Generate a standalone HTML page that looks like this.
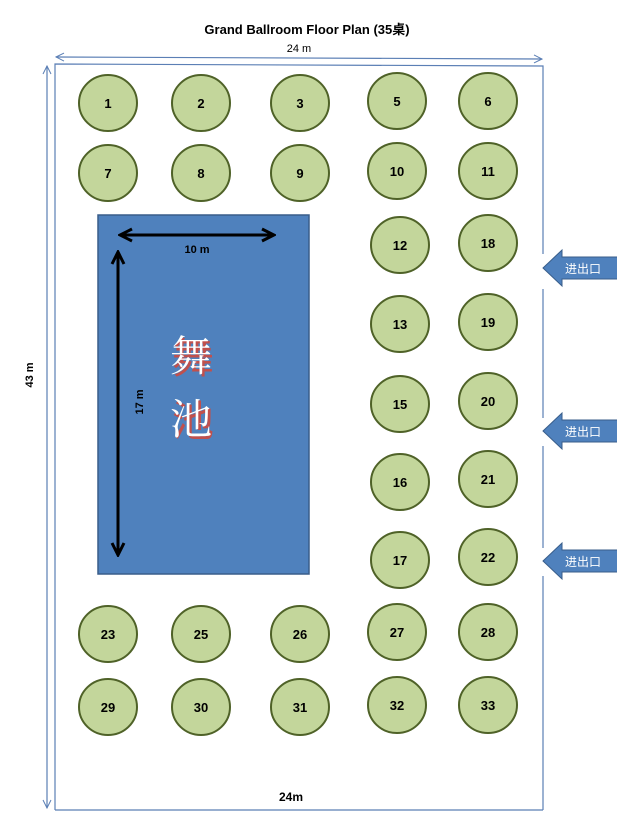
<!DOCTYPE html>
<html><head><meta charset="utf-8"><style>
body{margin:0;background:#fff;width:617px;height:823px;overflow:hidden}
svg text{font-family:"Liberation Sans","Noto Sans CJK SC",sans-serif}
</style></head><body>
<svg width="617" height="823" xmlns="http://www.w3.org/2000/svg">
<defs>
<marker id="oa" markerWidth="10" markerHeight="10" refX="9" refY="5" orient="auto-start-reverse" markerUnits="userSpaceOnUse"><path d="M1,1 L9,5 L1,9" fill="none" stroke="#5b7fb5" stroke-width="1"/></marker>
<marker id="ba" markerWidth="16" markerHeight="16" refX="14" refY="8" orient="auto-start-reverse" markerUnits="userSpaceOnUse"><path d="M2,2 L14,8 L2,14" fill="none" stroke="#000" stroke-width="3"/></marker>
</defs>
<text x="307" y="34" font-size="13" font-weight="bold" text-anchor="middle">Grand Ballroom Floor Plan  (35桌)</text>
<text x="299" y="52" font-size="11" text-anchor="middle">24 m</text>
<line x1="56" y1="57" x2="542" y2="59" stroke="#5b7fb5" stroke-width="1.2" marker-start="url(#oa)" marker-end="url(#oa)"/>
<line x1="47" y1="66" x2="47" y2="808" stroke="#5b7fb5" stroke-width="1.2" marker-start="url(#oa)" marker-end="url(#oa)"/>
<text transform="translate(33,375) rotate(-90)" font-size="11" font-weight="bold" text-anchor="middle">43 m</text>
<path d="M55,810 L55,64 L543,66 L543,254 M543,289 L543,418 M543,446 L543,548 M543,576 L543,810 Z M55,810 L543,810" fill="none" stroke="#5b7fb5" stroke-width="1.2"/>
<text x="291" y="801" font-size="12" font-weight="bold" text-anchor="middle">24m</text>
<rect x="98" y="215" width="211" height="359" fill="#4f81bd" stroke="#385d8a" stroke-width="1.5"/>
<line x1="120" y1="235" x2="274" y2="235" stroke="#000" stroke-width="3" marker-start="url(#ba)" marker-end="url(#ba)"/>
<text x="197" y="253" font-size="11" font-weight="bold" text-anchor="middle">10 m</text>
<line x1="118" y1="252" x2="118" y2="555" stroke="#000" stroke-width="3" marker-start="url(#ba)" marker-end="url(#ba)"/>
<text transform="translate(143,402) rotate(-90)" font-size="11" font-weight="bold" text-anchor="middle">17 m</text>
<g font-family="'Noto Serif CJK SC',serif" font-size="42" text-anchor="middle">
<text x="193" y="373" fill="#c0504d">舞</text><text x="193" y="436" fill="#c0504d">池</text>
<text x="191" y="371" fill="#fff" style="font-family:'Noto Serif CJK SC',serif">舞</text><text x="191" y="434" fill="#fff" style="font-family:'Noto Serif CJK SC',serif">池</text>
</g>
<g fill="#c3d69b" stroke="#4f6228" stroke-width="2">
<ellipse cx="108" cy="103" rx="29" ry="28"/><ellipse cx="201" cy="103" rx="29" ry="28"/><ellipse cx="300" cy="103" rx="29" ry="28"/><ellipse cx="397" cy="101" rx="29" ry="28"/><ellipse cx="488" cy="101" rx="29" ry="28"/>
<ellipse cx="108" cy="173" rx="29" ry="28"/><ellipse cx="201" cy="173" rx="29" ry="28"/><ellipse cx="300" cy="173" rx="29" ry="28"/><ellipse cx="397" cy="171" rx="29" ry="28"/><ellipse cx="488" cy="171" rx="29" ry="28"/>
<ellipse cx="400" cy="245" rx="29" ry="28"/><ellipse cx="488" cy="243" rx="29" ry="28"/>
<ellipse cx="400" cy="324" rx="29" ry="28"/><ellipse cx="488" cy="322" rx="29" ry="28"/>
<ellipse cx="400" cy="404" rx="29" ry="28"/><ellipse cx="488" cy="401" rx="29" ry="28"/>
<ellipse cx="400" cy="482" rx="29" ry="28"/><ellipse cx="488" cy="479" rx="29" ry="28"/>
<ellipse cx="400" cy="560" rx="29" ry="28"/><ellipse cx="488" cy="557" rx="29" ry="28"/>
<ellipse cx="108" cy="634" rx="29" ry="28"/><ellipse cx="201" cy="634" rx="29" ry="28"/><ellipse cx="300" cy="634" rx="29" ry="28"/><ellipse cx="397" cy="632" rx="29" ry="28"/><ellipse cx="488" cy="632" rx="29" ry="28"/>
<ellipse cx="108" cy="707" rx="29" ry="28"/><ellipse cx="201" cy="707" rx="29" ry="28"/><ellipse cx="300" cy="707" rx="29" ry="28"/><ellipse cx="397" cy="705" rx="29" ry="28"/><ellipse cx="488" cy="705" rx="29" ry="28"/>
</g>
<g font-size="13" font-weight="bold" text-anchor="middle">
<text x="108" y="108">1</text><text x="201" y="108">2</text><text x="300" y="108">3</text><text x="397" y="106">5</text><text x="488" y="106">6</text>
<text x="108" y="178">7</text><text x="201" y="178">8</text><text x="300" y="178">9</text><text x="397" y="176">10</text><text x="488" y="176">11</text>
<text x="400" y="250">12</text><text x="488" y="248">18</text>
<text x="400" y="329">13</text><text x="488" y="327">19</text>
<text x="400" y="409">15</text><text x="488" y="406">20</text>
<text x="400" y="487">16</text><text x="488" y="484">21</text>
<text x="400" y="565">17</text><text x="488" y="562">22</text>
<text x="108" y="639">23</text><text x="201" y="639">25</text><text x="300" y="639">26</text><text x="397" y="637">27</text><text x="488" y="637">28</text>
<text x="108" y="712">29</text><text x="201" y="712">30</text><text x="300" y="712">31</text><text x="397" y="710">32</text><text x="488" y="710">33</text>
</g>
<g fill="#4f81bd" stroke="#385d8a" stroke-width="1">
<path d="M543,268 L562,250 L562,257 L618,257 L618,279 L562,279 L562,286 Z"/>
<path d="M543,431 L562,413 L562,420 L618,420 L618,442 L562,442 L562,449 Z"/>
<path d="M543,561 L562,543 L562,550 L618,550 L618,572 L562,572 L562,579 Z"/>
</g>
<g font-size="12" fill="#fff">
<text x="565" y="273">进出口</text><text x="565" y="436">进出口</text><text x="565" y="566">进出口</text>
</g>
</svg>
</body></html>
